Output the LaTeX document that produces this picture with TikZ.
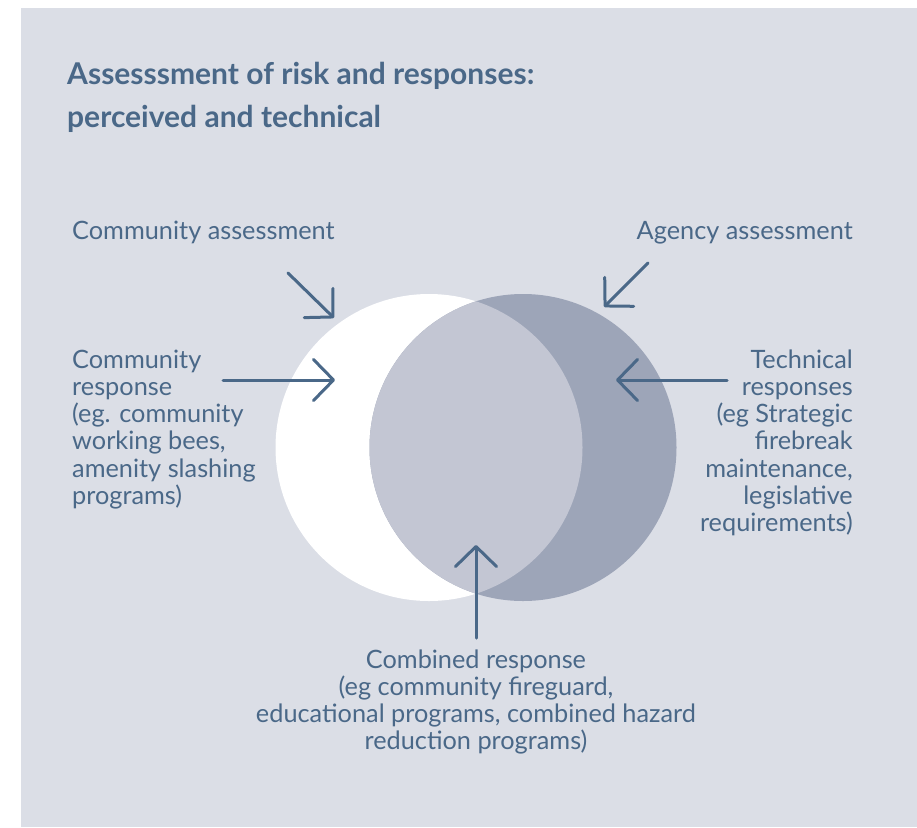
\documentclass[tikz,border=0pt]{standalone}
\usepackage{fontspec}
\setmainfont{Lato}
\usepackage{xcolor}
\usepackage{tikz}
\usetikzlibrary{arrows.meta}

\definecolor{panelgrey}{HTML}{DBDEE6}
\definecolor{agencygrey}{HTML}{9DA5B8}
\definecolor{sharedgrey}{HTML}{C3C6D3}
\definecolor{inkblue}{HTML}{4A6888}

\tikzset{
    lbl/.style={text=inkblue, inner sep=0pt, font=\fontsize{25.3}{27.3}\selectfont},
    arr/.style={draw=inkblue, line width=3pt, line cap=round,
        -{Straight Barb[length=20pt,width=41pt,round]}}
}

\begin{document}
\begin{tikzpicture}[x=1pt,y=-1pt]
    \useasboundingbox (0,0) rectangle (917,827);
    \fill[panelgrey] (21,8) rectangle (917,827);
    % circles
    \fill[white] (429,447.5) circle[radius=153.5pt];
    \fill[agencygrey] (523,447.5) circle[radius=153.5pt];
    \begin{scope}
        \clip (429,447.5) circle[radius=153.5pt];
        \fill[sharedgrey] (523,447.5) circle[radius=153.5pt];
    \end{scope}
    % labels (base = last line)
    \node[lbl,anchor=base west,align=left,font=\bfseries\fontsize{30}{43}\selectfont] (title) at (67,127)
        {Assesssment of risk and responses:\\perceived and technical};
    \node[lbl,anchor=base west] (comassess) at (72,239) {Community assessment};
    \node[lbl,anchor=base east] (agyassess) at (853,239) {Agency assessment};
    \node[lbl,anchor=base west,align=left] (comresp) at (72,504.5)
        {Community\\response\\(eg. community\\working bees,\\amenity slashing\\programs)};
    \node[lbl,anchor=base east,align=right] (techresp) at (853,531.8)
        {Technical\\responses\\(eg Strategic\\firebreak\\maintenance,\\legislative\\requirements)};
    \node[lbl,anchor=base,align=center] (combresp) at (476,749.9)
        {Combined response\\(eg community fireguard,\\educational programs, combined hazard\\reduction programs)};
    % arrow ends
    \coordinate (ca1) at (288,273);
    \coordinate (ca2) at (334,318);
    \coordinate (aa1) at (648,263);
    \coordinate (aa2) at (604,307);
    \coordinate (cr1) at (223,380);
    \coordinate (cr2) at (335,380);
    \coordinate (tr1) at (727,380);
    \coordinate (tr2) at (616,380);
    \coordinate (cb1) at (476,638);
    \coordinate (cb2) at (476,545);
    \draw[arr] (ca1) to (ca2);
    \draw[arr] (aa1) to (aa2);
    \draw[arr] (cr1) to (cr2);
    \draw[arr] (tr1) to (tr2);
    \draw[arr] (cb1) to (cb2);
\end{tikzpicture}
\end{document}
